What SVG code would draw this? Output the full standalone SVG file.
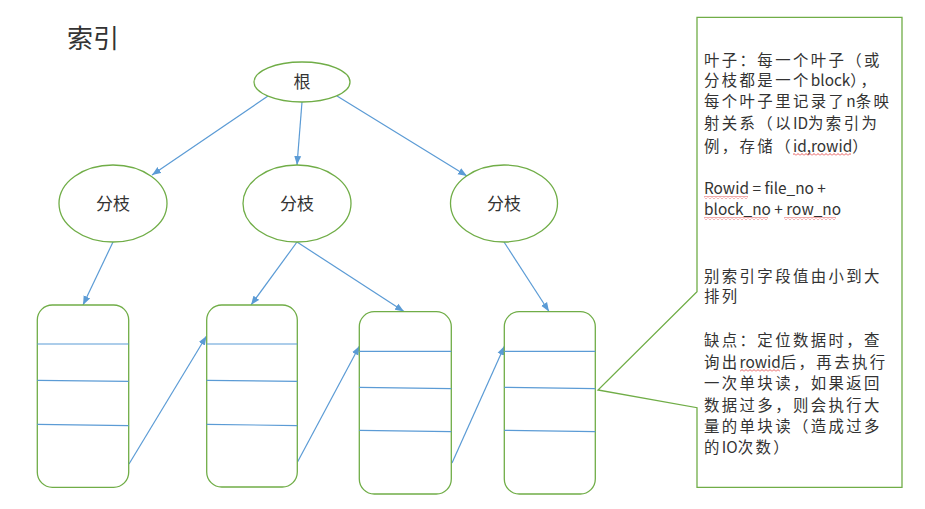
<svg xmlns="http://www.w3.org/2000/svg" width="925" height="509" viewBox="0 0 925 509">
<style>
.g{fill:#fff;stroke:#70AD47;stroke-width:1.3}
.c{fill:none;stroke:#5B9BD5;stroke-width:1.2}
.sep{fill:none;stroke:#5B9BD5;stroke-width:1.2}
.t{font-family:"Noto Sans CJK SC","Noto Sans",sans-serif;fill:#333}
.n{font-size:17px;text-anchor:middle;fill:#333}
.b{font-size:15.4px;letter-spacing:2.4px}
.l{letter-spacing:0}
.sq{fill:url(#sq)}
</style>
<defs>
<marker id="ah" markerUnits="userSpaceOnUse" markerWidth="10" markerHeight="8" refX="9" refY="4" orient="auto">
<path d="M0,0.5 L9,4 L0,7.5 Z" fill="#5B9BD5"/>
</marker>
<pattern id="sq" width="4" height="3" patternUnits="userSpaceOnUse">
<path d="M0,2.5 L2,0.5 L4,2.5" fill="none" stroke="#E03030" stroke-width="0.8"/>
</pattern>
</defs>
<rect width="925" height="509" fill="#fff"/>
<text class="t" x="67" y="48" font-size="26" fill="#000">索引</text>

<g id="connectors">
<line class="c" x1="268" y1="96" x2="152" y2="175" marker-end="url(#ah)"/>
<line class="c" x1="302" y1="102" x2="297" y2="165" marker-end="url(#ah)"/>
<line class="c" x1="337" y1="96" x2="467" y2="176" marker-end="url(#ah)"/>
<line class="c" x1="113" y1="242" x2="83" y2="305" marker-end="url(#ah)"/>
<line class="c" x1="297" y1="242" x2="251" y2="305" marker-end="url(#ah)"/>
<line class="c" x1="297" y1="242" x2="404" y2="311.5" marker-end="url(#ah)"/>
<line class="c" x1="504" y1="242" x2="549" y2="311.5" marker-end="url(#ah)"/>
<line class="c" x1="129" y1="464" x2="206.5" y2="336" marker-end="url(#ah)"/>
<line class="c" x1="297.5" y1="462" x2="359.5" y2="346" marker-end="url(#ah)"/>
<line class="c" x1="452" y1="463" x2="504.5" y2="346" marker-end="url(#ah)"/>
</g>

<g id="root">
<ellipse class="g" cx="302" cy="82" rx="48" ry="20"/>
<text class="t n" x="302" y="88">根</text>
</g>
<g id="branch-left">
<ellipse class="g" cx="113" cy="203.5" rx="54" ry="38.5"/>
<text class="t n" x="113" y="209.5">分枝</text>
</g>
<g id="branch-middle">
<ellipse class="g" cx="297" cy="203.5" rx="54" ry="38.5"/>
<text class="t n" x="297" y="209.5">分枝</text>
</g>
<g id="branch-right">
<ellipse class="g" cx="504" cy="203.5" rx="53.5" ry="38.5"/>
<text class="t n" x="504" y="209.5">分枝</text>
</g>

<g id="leaf-1">
<rect class="g" x="37.3" y="305" width="91.4" height="182.3" rx="15" ry="15"/>
<line class="sep" x1="37.3" y1="344" x2="128.7" y2="344"/>
<line class="sep" x1="37.3" y1="380.3" x2="128.7" y2="381.3"/>
<line class="sep" x1="37.3" y1="424.3" x2="128.7" y2="425.6"/>
</g>
<g id="leaf-2">
<rect class="g" x="206.7" y="305" width="90.6" height="182" rx="15" ry="15"/>
<line class="sep" x1="206.7" y1="344" x2="297.3" y2="344"/>
<line class="sep" x1="206.7" y1="380.3" x2="297.3" y2="381.3"/>
<line class="sep" x1="206.7" y1="424.3" x2="297.3" y2="425.6"/>
</g>
<g id="leaf-3">
<rect class="g" x="359.3" y="311.7" width="92" height="182.3" rx="15" ry="15"/>
<line class="sep" x1="359.3" y1="351.3" x2="451.3" y2="351.3"/>
<line class="sep" x1="359.3" y1="387.3" x2="451.3" y2="388.7"/>
<line class="sep" x1="359.3" y1="430.3" x2="451.3" y2="431.7"/>
</g>
<g id="leaf-4">
<rect class="g" x="504.3" y="311.7" width="91" height="182.3" rx="15" ry="15"/>
<line class="sep" x1="504.3" y1="351.3" x2="595.3" y2="351.3"/>
<line class="sep" x1="504.3" y1="387.3" x2="595.3" y2="388.7"/>
<line class="sep" x1="504.3" y1="430.3" x2="595.3" y2="431.7"/>
</g>

<g id="callout">
<path class="g" d="M697,17.3 H902 V487.3 H697 V407.7 L598,390 L697,291.7 Z"/>
<g class="t b">
<text x="704" y="66">叶子：每一个叶子（或</text>
<text x="704" y="86.4">分枝都是一个<tspan class="l">block</tspan>），</text>
<text x="704" y="106.8">每个叶子里记录了<tspan class="l">n</tspan>条映</text>
<text x="704" y="129.2">射关系（以<tspan class="l">ID</tspan>为索引为</text>
<text x="704" y="151.7">例，存储（<tspan class="l">id,rowid</tspan>）</text>
<text x="704" y="194" class="l">Rowid = file_no +</text>
<text x="704" y="215" class="l">block_no + row_no</text>
<text x="704" y="281.5">别索引字段值由小到大</text>
<text x="704" y="301.8">排列</text>
<text x="704" y="345.9">缺点：定位数据时，查</text>
<text x="704" y="367.6">询出<tspan class="l">rowid</tspan>后，再去执行</text>
<text x="704" y="389.2">一次单块读，如果返回</text>
<text x="704" y="410.9">数据过多，则会执行大</text>
<text x="704" y="432.4">量的单块读（造成过多</text>
<text x="704" y="452.8">的<tspan class="l">IO</tspan>次数）</text>
</g>
<rect class="sq" x="793" y="153" width="58" height="3"/>
<rect class="sq" x="704" y="196" width="44" height="3"/>
<rect class="sq" x="704" y="217" width="64" height="3"/>
<rect class="sq" x="784" y="217" width="52" height="3"/>
<rect class="sq" x="740" y="369" width="40" height="3"/>
</g>
</svg>
